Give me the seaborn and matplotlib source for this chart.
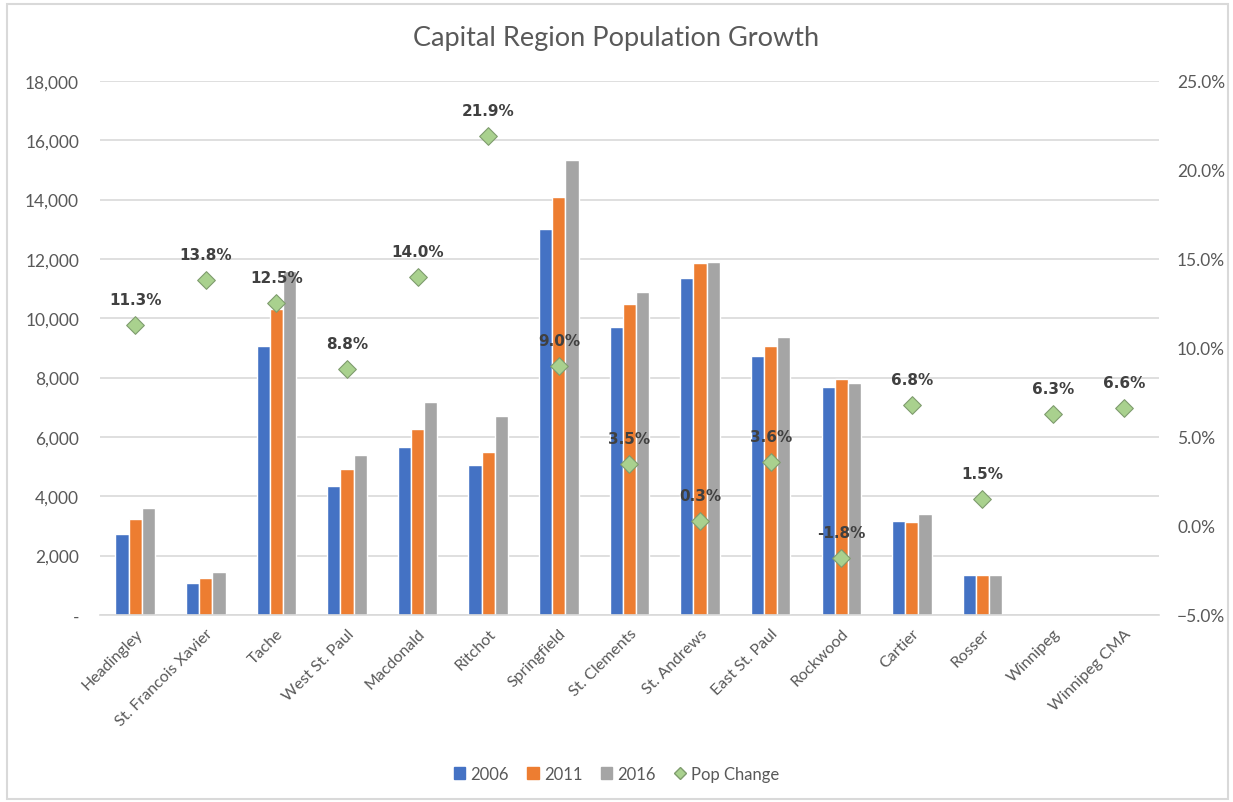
import matplotlib.pyplot as plt
import matplotlib.ticker as mticker
from matplotlib.patches import Rectangle, Patch
from matplotlib.lines import Line2D
import pandas as pd
import seaborn as sns
import numpy as np

# Chart data
municipalities = ['Headingley', 'St. Francois Xavier', 'Tache', 'West St. Paul', 'Macdonald',
                  'Ritchot', 'Springfield', 'St. Clements', 'St. Andrews', 'East St. Paul',
                  'Rockwood', 'Cartier', 'Rosser', 'Winnipeg', 'Winnipeg CMA']
pop_2006 = [2720, 1080, 9080, 4340, 5650, 5060, 13000, 9700, 11350, 8740, 7680, 3180, 1360, np.nan, np.nan]
pop_2011 = [3220, 1240, 10300, 4920, 6270, 5480, 14070, 10490, 11860, 9060, 7950, 3140, 1360, np.nan, np.nan]
pop_2016 = [3590, 1430, 11600, 5380, 7160, 6690, 15340, 10880, 11910, 9370, 7820, 3390, 1360, np.nan, np.nan]
pop_change = [0.113, 0.138, 0.125, 0.088, 0.140, 0.219, 0.090, 0.035, 0.003, 0.036,
              -0.018, 0.068, 0.015, 0.063, 0.066]
years = ['2006', '2011', '2016']
bar_colors = ['#4472C4', '#ED7D31', '#A5A5A5']

# long format for seaborn
bars = pd.DataFrame({
    'Municipality': municipalities * 3,
    'Year': np.repeat(years, len(municipalities)),
    'Population': pop_2006 + pop_2011 + pop_2016,
})
change = pd.DataFrame({'Municipality': municipalities, 'Change': pop_change})

sns.set_theme(style='white')
plt.rcParams['font.family'] = ['Lato', 'DejaVu Sans']
grey_txt = '#595959'

fig = plt.figure(figsize=(12.33, 8.03), dpi=100)
fig.patches.append(Rectangle((0.006, 0.004), 0.99, 0.99, transform=fig.transFigure,
                             fill=False, edgecolor='#D9D9D9', lw=1.5))
ax = fig.add_axes([0.081, 0.233, 0.859, 0.665])

sns.barplot(data=bars, x='Municipality', y='Population', hue='Year', order=municipalities,
            hue_order=years, palette=bar_colors, saturation=1, width=0.56, legend=False, ax=ax)
ax.set_ylim(0, 18000)
ax.set_yticks(range(0, 18001, 2000))
ax.yaxis.set_major_formatter(mticker.FuncFormatter(lambda v, _: '-' if v == 0 else f'{int(v):,}'))
ax.yaxis.grid(True, color='#D9D9D9', lw=1.2)
ax.set_axisbelow(True)
for s in ['left', 'right', 'top']:
    ax.spines[s].set_visible(False)
ax.spines['bottom'].set_color('#D9D9D9')
ax.spines['bottom'].set_linewidth(1.2)
ax.set_xlabel('')
ax.set_ylabel('')

# Pop change on secondary axis
ax2 = ax.twinx()
sns.stripplot(data=change, x='Municipality', y='Change', order=municipalities, jitter=False,
              marker='D', size=9, color='#A9D18E', edgecolor='#7F9C6E', linewidth=0.8, ax=ax2)
ax2.set_ylim(-0.05, 0.25)
ax2.set_yticks(np.arange(-0.05, 0.2501, 0.05))
ax2.yaxis.set_major_formatter(mticker.PercentFormatter(1, decimals=1))
for s in ax2.spines.values():
    s.set_visible(False)
ax2.set_ylabel('')
ax2.set_xlabel('')

for i, v in enumerate(pop_change):
    ax2.annotate(f'{v:.1%}', (i, v), xytext=(0, 13), textcoords='offset points',
                 ha='center', va='bottom', fontsize=11, fontweight='bold', color='#404040',
                 family='DejaVu Sans')

ax.set_xticks(range(len(municipalities)))
ax.set_xticklabels(municipalities, rotation=45, ha='right', rotation_mode='anchor')
ax.tick_params(axis='x', length=0, colors=grey_txt, labelsize=11.5, pad=8)
ax.tick_params(axis='y', length=0, colors=grey_txt, labelsize=12.5, pad=15)
ax2.tick_params(axis='y', length=0, colors=grey_txt, labelsize=12.5, pad=13)

fig.suptitle('Capital Region Population Growth', y=0.967, fontsize=19.5, color=grey_txt)

handles = [Patch(color=c, label=y) for c, y in zip(bar_colors, years)]
handles.append(Line2D([], [], marker='D', ls='none', markersize=6, color='#A9D18E',
                      markeredgecolor='#7F9C6E', label='Pop Change'))
fig.legend(handles=handles, loc='center', bbox_to_anchor=(0.5, 0.035), ncol=4, frameon=False,
           fontsize=12, handlelength=0.7, handleheight=0.7, handletextpad=0.3, columnspacing=1.1,
           labelcolor=grey_txt)

fig.savefig('out.png', dpi=100)
